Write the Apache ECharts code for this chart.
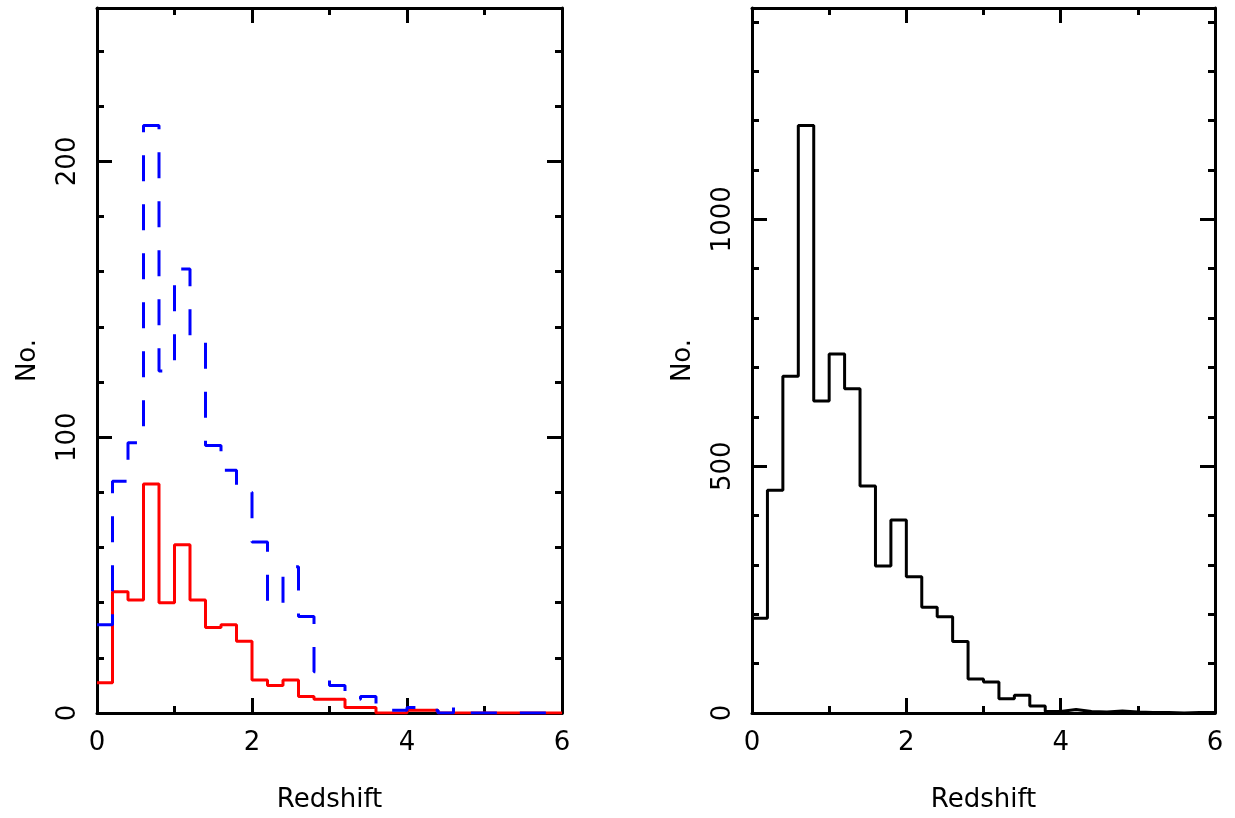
<!DOCTYPE html>
<html>
<head>
<meta charset="utf-8">
<script src="https://cdn.jsdelivr.net/npm/echarts@6/dist/echarts.min.js"></script>
<style>
html,body{margin:0;padding:0;background:#fff;}
#c{width:1235px;height:818px;}
</style>
</head>
<body>
<div id="c"></div>
<script>
// ---- data (histogram bins of width 0.2 in redshift) ----
const binEdges = [0.0,0.2,0.4,0.6,0.8,1.0,1.2,1.4,1.6,1.8,2.0,2.2,2.4,2.6,2.8,3.0,3.2,3.4,3.6,3.8,4.0,4.2,4.4,4.6,4.8,5.0,5.2,5.4,5.6,5.8,6.0];
const leftBlue  = [32,84,98,213,124,161,135,97,88,80,62,39,53,35,15,10,5,6,3,1,2,1,0,2,0,0,0,0,0,0];
const leftRed   = [11,44,41,83,40,61,41,31,32,26,12,10,12,6,5,5,2,2,0,0,1,1,0,0,0,0,0,0,0,0];
const rightBlack= [192,451,682,1190,632,727,657,460,298,391,276,214,195,145,69,63,29,36,14,3,7,3,2,4,2,1,1,0,1,1];
const xRange = [0, 6];
const leftYMax = 255.6;
const rightYMax = 1428;
const leftYMajor = 100, leftYMinor = 20;
const rightYMajor = 500, rightYMinor = 100;

function stepData(vals){
  const d = vals.map((v,i)=>[binEdges[i], v]);
  d.push([binEdges[vals.length], vals[vals.length-1]]);
  return d;
}

const FONT = 'DejaVu Sans';
const AX = '#000';
const TXT = {color:'#000', fontFamily:FONT, fontSize:26};

function xAx(grid, pos, labels){
  return {
    type:'value', gridIndex:grid, position:pos, min:xRange[0], max:xRange[1], interval:2,
    axisLine:{show:true, onZero:false, lineStyle:{color:AX, width:3}},
    axisTick:{show:true, inside:true, length:15, lineStyle:{color:AX, width:3}},
    minorTick:{show:true, splitNumber:2, length:7, lineStyle:{color:AX, width:3}},
    axisLabel:Object.assign({show:labels, margin:17, showMinLabel:true, showMaxLabel:true,
      formatter:(v)=>String(v)}, TXT),
    splitLine:{show:false}, minorSplitLine:{show:false},
    name: labels ? 'Redshift' : '', nameLocation:'middle', nameGap:74,
    nameTextStyle: TXT
  };
}
function yAx(grid, pos, max, interval, tickLen, labels, line){
  return {
    type:'value', gridIndex:grid, position:pos, min:0, max:max, interval:interval,
    axisLine:{show:line, onZero:false, lineStyle:{color:AX, width:3}},
    axisTick:{show:true, inside:true, length:tickLen, lineStyle:{color:AX, width:3}},
    axisLabel:Object.assign({show:labels, rotate:90, margin:16, showMinLabel:true, showMaxLabel:false,
      formatter:(v)=>String(v)}, TXT),
    splitLine:{show:false},
    name: labels ? 'No.' : '', nameLocation:'middle', nameRotate:90, nameGap:56,
    nameTextStyle: TXT
  };
}

const chart = echarts.init(document.getElementById('c'), null, {renderer:'canvas'});
chart.setOption({
  animation:false,
  backgroundColor:'#fff',
  grid:[
    {left:97, top:8, width:465, height:707},
    {left:752, top:8, width:463, height:707}
  ],
  xAxis:[
    xAx(0,'bottom',true), xAx(0,'top',false),
    xAx(1,'bottom',true), xAx(1,'top',false)
  ],
  yAxis:[
    yAx(0,'left', leftYMax, leftYMajor, 15, true, true),
    yAx(0,'left', leftYMax, leftYMinor, 7, false, false),
    yAx(0,'right', leftYMax, leftYMajor, 15, false, true),
    yAx(0,'right', leftYMax, leftYMinor, 7, false, false),
    yAx(1,'left', rightYMax, rightYMajor, 15, true, true),
    yAx(1,'left', rightYMax, rightYMinor, 7, false, false),
    yAx(1,'right', rightYMax, rightYMajor, 15, false, true),
    yAx(1,'right', rightYMax, rightYMinor, 7, false, false)
  ],
  series:[
    {type:'line', step:'end', xAxisIndex:0, yAxisIndex:0, data:stepData(leftRed),
     showSymbol:false, symbol:'none', lineStyle:{color:'#ff0000', width:3}, z:3},
    {type:'line', step:'end', xAxisIndex:0, yAxisIndex:0, data:stepData(leftBlue),
     showSymbol:false, symbol:'none', lineStyle:{color:'#0000ff', width:3, type:[26,23]}, z:4},
    {type:'line', step:'end', xAxisIndex:2, yAxisIndex:4, data:stepData(rightBlack),
     showSymbol:false, symbol:'none', lineStyle:{color:'#000', width:3}, z:3}
  ]
});
</script>
</body>
</html>
